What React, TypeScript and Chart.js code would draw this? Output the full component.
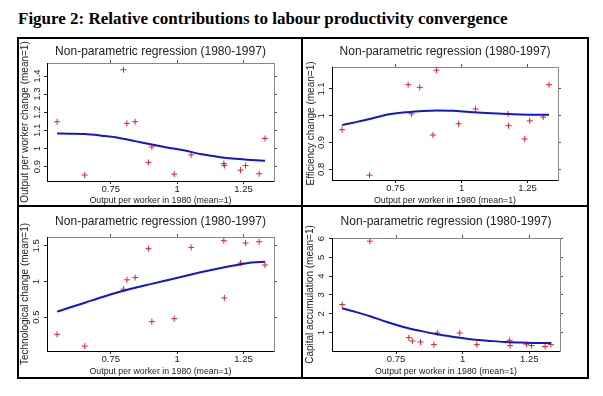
import React, { useEffect, useRef } from 'react';
import { Chart, registerables } from 'chart.js';
Chart.register(...registerables);

const FIGURE_TITLE = 'Figure 2: Relative contributions to labour productivity convergence';
const PANEL_TITLE = 'Non-parametric regression (1980-1997)';
const X_TITLE = 'Output per worker in 1980 (mean=1)';

// shared x values (output per worker in 1980, mean = 1)
const outputPerWorker1980 = [0.548, 0.652, 0.798, 0.811, 0.842, 0.892, 0.905, 0.989, 1.053, 1.176, 1.178, 1.239, 1.258, 1.309, 1.331];
// x grid of the fitted non-parametric curves
const fitX = [0.548, 0.59, 0.653, 0.716, 0.778, 0.842, 0.905, 0.967, 1.03, 1.093, 1.156, 1.219, 1.282, 1.331];
const xTickValues = [0.75, 1, 1.25];
const xMin = 0.51;
const xMax = 1.365;

// Panel 1: output per worker change
const outputChange = [1.148, 0.854, 1.435, 1.139, 1.148, 0.924, 1.009, 0.859, 0.965, 0.917, 0.906, 0.881, 0.906, 0.861, 1.056];
const outputChangeFit = [1.083, 1.082, 1.08, 1.071, 1.06, 1.041, 1.022, 1.005, 0.989, 0.968, 0.954, 0.944, 0.937, 0.933];
const outputTicks = [0.9, 1, 1.1, 1.2, 1.3, 1.4];

// Panel 2: efficiency change
const efficiencyChange = [0.948, 0.778, 1.116, 1.007, 1.106, 0.928, 1.17, 0.97, 1.025, 1.007, 0.963, 0.913, 0.981, 0.995, 1.116];
const efficiencyFit = [0.965, 0.974, 0.988, 1.004, 1.012, 1.017, 1.02, 1.019, 1.014, 1.01, 1.007, 1.005, 1.004, 1.004];
const efficiencyTicks = [0.8, 0.9, 1, 1.1];

// Panel 3: technological change
const techChange = [0.259, 0.094, 0.893, 1.024, 1.056, 1.461, 0.437, 0.479, 1.479, 1.573, 0.77, 1.259, 1.54, 1.559, 1.231];
const techFit = [0.577, 0.628, 0.703, 0.78, 0.85, 0.912, 0.967, 1.022, 1.078, 1.133, 1.183, 1.228, 1.268, 1.276];
const techTicks = [0.5, 1, 1.5];

// Panel 4: capital accumulation
const capitalAccum = [2.49, 5.86, 0.73, 0.55, 0.5, 0.36, 0.98, 0.98, 0.36, 0.59, 0.31, 0.38, 0.31, 0.26, 0.36];
const capitalFit = [2.29, 2.13, 1.87, 1.56, 1.3, 1.09, 0.91, 0.77, 0.64, 0.57, 0.5, 0.47, 0.45, 0.45];
const capitalTicks = [1, 2, 3, 4, 5, 6];

const FONT = "'Liberation Sans', Arial, Helvetica, sans-serif";
const RED = '#e8202a';
const BLUE = '#1414d2';

type PanelCfg = {
  yTitle: string;
  ys: number[];
  fit: number[];
  yTicks: number[];
  yMin: number;
  yMax: number;
  left: number; top: number; w: number; h: number;
  leftW: number; rightW: number; topH: number; bottomH: number;
  titlePad: number; yTitlePad: number; xTitlePad: number; yTickPad: number;
};

const panels: PanelCfg[] = [
  { yTitle: 'Output per worker change (mean=1)', ys: outputChange, fit: outputChangeFit, yTicks: outputTicks, yMin: 0.821, yMax: 1.472,
    left: 19, top: 39, w: 282, h: 166, leftW: 28, rightW: 27, topH: 24, bottomH: 24, titlePad: 5.5, yTitlePad: 0, xTitlePad: 0, yTickPad: 0 },
  { yTitle: 'Efficiency change (mean=1)', ys: efficiencyChange, fit: efficiencyFit, yTicks: efficiencyTicks, yMin: 0.76, yMax: 1.182,
    left: 303, top: 39, w: 284, h: 166, leftW: 29, rightW: 29, topH: 28, bottomH: 25, titlePad: 5.5, yTitlePad: 2, xTitlePad: 0, yTickPad: 0.7 },
  { yTitle: 'Technological change (mean=1)', ys: techChange, fit: techFit, yTicks: techTicks, yMin: 0.025, yMax: 1.625,
    left: 19, top: 207, w: 282, h: 170, leftW: 28, rightW: 27, topH: 30, bottomH: 26, titlePad: 7.5, yTitlePad: 0, xTitlePad: 0.9, yTickPad: 0.7 },
  { yTitle: 'Capital accumulation (mean=1)', ys: capitalAccum, fit: capitalFit, yTicks: capitalTicks, yMin: 0.02, yMax: 6.03,
    left: 303, top: 207, w: 284, h: 170, leftW: 29, rightW: 27, topH: 31, bottomH: 26, titlePad: 7.5, yTitlePad: 1, xTitlePad: 0.9, yTickPad: 4.6 },
];

const fmt = (v: any) => String(Math.round(Number(v) * 100) / 100);

function Panel({ p }: { p: PanelCfg }) {
  const ref = useRef<HTMLCanvasElement | null>(null);
  useEffect(() => {
    if (!ref.current) return;
    const setTicks = (vals: number[]) => (s: any) => { s.ticks = vals.map((v) => ({ value: v })); };
    const tickGrid = (color: string) => ({ display: true, drawOnChartArea: false, drawTicks: true, tickLength: 3, color, lineWidth: 1 });
    const chart = new Chart(ref.current, {
      type: 'scatter',
      data: {
        datasets: [
          {
            data: fitX.map((x, i) => ({ x, y: p.fit[i] })),
            showLine: true,
            borderColor: BLUE,
            backgroundColor: BLUE,
            borderWidth: 2,
            pointRadius: 0,
            cubicInterpolationMode: 'monotone',
            fill: false,
          } as any,
          {
            data: outputPerWorker1980.map((x, i) => ({ x, y: p.ys[i] })),
            showLine: false,
            pointStyle: 'cross',
            pointRadius: 3,
            borderWidth: 1,
            borderColor: RED,
            backgroundColor: RED,
          } as any,
        ],
      },
      options: {
        responsive: false,
        animation: false,
        devicePixelRatio: 1,
        layout: { padding: 0 },
        events: [],
        plugins: { legend: { display: false }, tooltip: { enabled: false }, title: { display: false } },
        scales: {
          x: {
            type: 'linear', axis: 'x', position: 'bottom', min: xMin, max: xMax,
            afterBuildTicks: setTicks(xTickValues),
            afterFit: (s: any) => { s.height = p.bottomH; },
            ticks: { font: { family: FONT, size: 9.5 }, color: '#222', padding: 0, callback: fmt, maxRotation: 0, autoSkip: false },
            grid: tickGrid('#222'),
            border: { display: true, color: '#000', width: 1 },
            title: { display: true, text: X_TITLE, font: { family: FONT, size: 8.8, lineHeight: 1 }, color: '#222', padding: { top: 0, bottom: p.xTitlePad } },
          },
          x2: {
            type: 'linear', axis: 'x', position: 'top', min: xMin, max: xMax,
            afterBuildTicks: setTicks(xTickValues),
            afterFit: (s: any) => { s.height = p.topH; },
            ticks: { display: false },
            grid: tickGrid('#555'),
            border: { display: true, color: '#888', width: 1 },
            title: { display: true, text: PANEL_TITLE, font: { family: FONT, size: 12, lineHeight: 1.2 }, color: '#222', padding: { top: p.titlePad, bottom: 0 } },
          },
          y: {
            type: 'linear', axis: 'y', position: 'left', min: p.yMin, max: p.yMax,
            afterBuildTicks: setTicks(p.yTicks),
            afterFit: (s: any) => { s.width = p.leftW; },
            ticks: { font: { family: FONT, size: 9.5 }, color: '#222', padding: p.yTickPad, minRotation: 90, maxRotation: 90, crossAlign: 'center', callback: fmt, autoSkip: false },
            grid: tickGrid('#222'),
            border: { display: true, color: '#000', width: 1 },
            title: { display: true, text: p.yTitle, font: { family: FONT, size: 10, lineHeight: 1.2 }, color: '#222', padding: { top: p.yTitlePad, bottom: 0 } },
          },
          y2: {
            type: 'linear', axis: 'y', position: 'right', min: p.yMin, max: p.yMax,
            afterBuildTicks: setTicks(p.yTicks),
            afterFit: (s: any) => { s.width = p.rightW; },
            ticks: { display: false },
            grid: tickGrid('#555'),
            border: { display: true, color: '#888', width: 1 },
          },
        },
      } as any,
    });
    return () => chart.destroy();
  }, [p]);
  return (
    <canvas
      ref={ref}
      width={p.w}
      height={p.h}
      style={{ position: 'absolute', left: p.left, top: p.top, width: p.w, height: p.h }}
    />
  );
}

export default function App() {
  return (
    <div style={{ position: 'absolute', left: 0, top: 0, width: 603, height: 396, background: '#fff', overflow: 'hidden' }}>
      <div style={{ position: 'absolute', left: 18, top: 9, font: "bold 17px 'Liberation Serif', 'Times New Roman', serif", lineHeight: '20px', whiteSpace: 'nowrap', color: '#000' }}>
        {FIGURE_TITLE}
      </div>
      <div style={{ position: 'absolute', left: 17, top: 37, width: 572, height: 342, border: '2px solid #000', boxSizing: 'border-box' }} />
      <div style={{ position: 'absolute', left: 301, top: 37, width: 2, height: 342, background: '#000' }} />
      <div style={{ position: 'absolute', left: 17, top: 205, width: 572, height: 2, background: '#000' }} />
      {panels.map((p, i) => (
        <Panel key={i} p={p} />
      ))}
    </div>
  );
}
